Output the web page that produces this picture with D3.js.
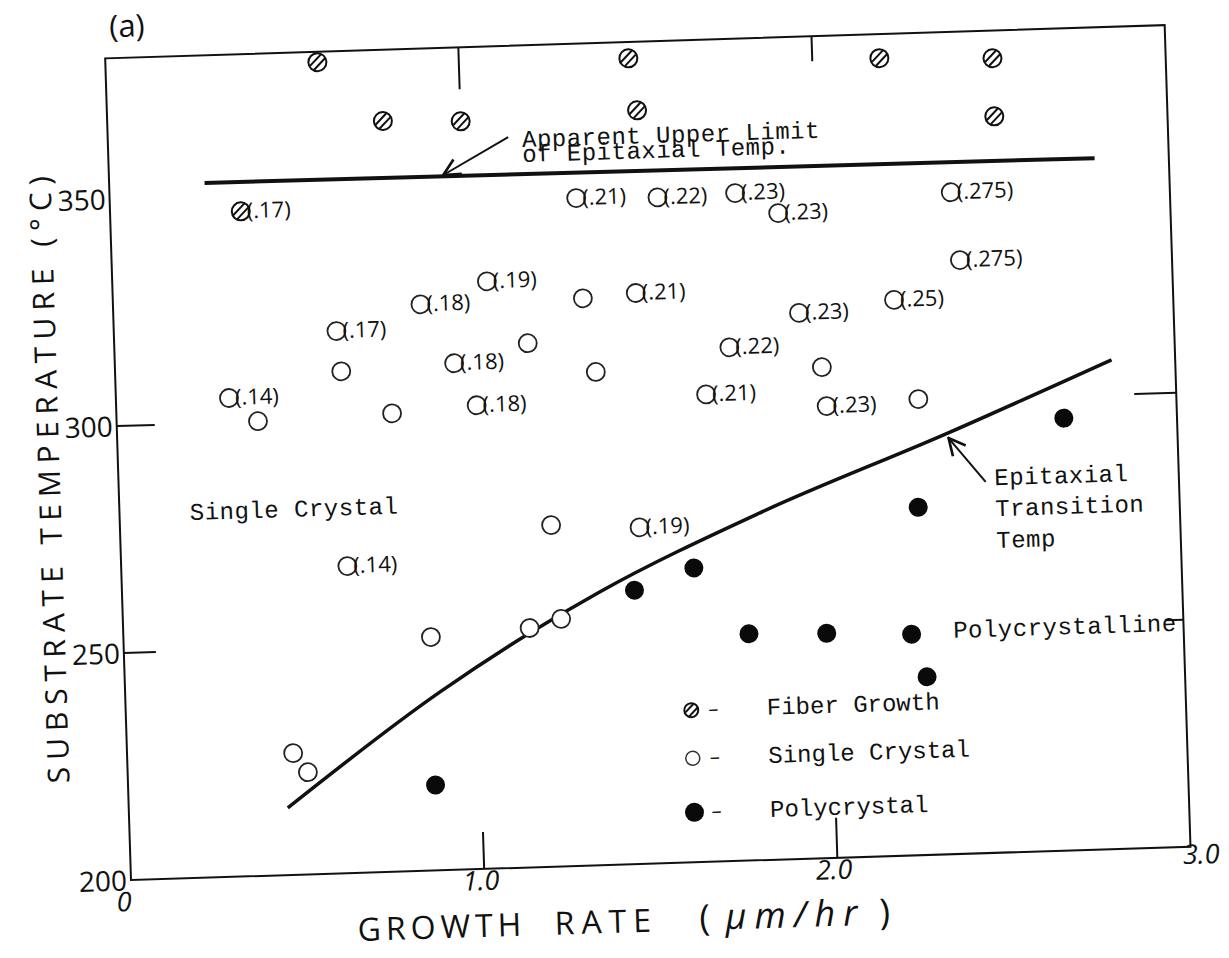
<!DOCTYPE html>
<html>
<head>
<meta charset="utf-8">
<script src="https://cdn.jsdelivr.net/npm/d3@7"></script>
<style>
  body { margin: 0; background: #fff; }
  .hand { font-family: "Open Sans", "DejaVu Sans", sans-serif; fill: #111; }
  .type { font-family: "Liberation Mono", "DejaVu Sans Mono", monospace; fill: #111; }
</style>
</head>
<body>
<div id="chart"></div>
<script>

// ---- data (growth rate um/hr, substrate temp C, film thickness label) ----

var xTickValues = [0, 1, 2, 3];
var xTickLabels = ["0", "1.0", "2.0", "3.0"];
var yTickValues = [200, 250, 300, 350];

var fiberGrowth = [
    [0.60, 378.7, ""], [1.48, 377.4, ""], [2.19, 375.7, ""], [2.51, 374.9, ""],
    [0.78, 365.3, ""], [1.00, 364.7, ""], [1.50, 365.9, ""], [2.51, 362.1, ""],
    [0.37, 346.4, "(.17)"]
];

var singleCrystal = [
    [1.32, 347.0, "(.21)"], [1.55, 346.6, "(.22)"], [1.77, 347.0, "(.23)"],
    [1.89, 342.3, "(.23)"], [2.38, 345.7, "(.275)"], [2.40, 330.7, "(.275)"],
    [2.21, 322.4, "(.25)"], [1.94, 320.2, "(.23)"], [1.74, 313.1, "(.22)"],
    [1.67, 302.9, "(.21)"], [2.01, 299.5, "(.23)"], [1.48, 325.7, "(.21)"],
    [1.06, 329.3, "(.19)"], [0.87, 324.7, "(.18)"], [0.96, 311.5, "(.18)"],
    [1.02, 302.1, "(.18)"], [0.63, 319.4, "(.17)"], [0.32, 305.4, "(.14)"],
    [0.64, 267.6, "(.14)"], [1.47, 274.1, "(.19)"],
    [1.33, 324.9, ""], [1.17, 315.4, ""], [1.36, 308.6, ""], [2.00, 308.1, ""],
    [2.27, 300.4, ""], [0.64, 310.5, ""], [0.78, 300.9, ""], [0.40, 300.1, ""],
    [1.22, 275.2, ""], [0.87, 251.4, ""], [1.15, 252.7, ""], [1.24, 254.5, ""],
    [0.47, 226.8, ""], [0.51, 222.5, ""]
];

var polycrystal = [
    [0.87, 218.8], [1.45, 260.3], [1.62, 264.8], [1.77, 249.9], [1.99, 249.5],
    [2.23, 248.7], [2.27, 239.2], [2.26, 276.6], [2.68, 295.2]
];

var transitionCurve = [
    [0.45, 214.8], [0.89, 239.2], [1.15, 251.6], [1.35, 260.1],
    [1.81, 276.4], [2.35, 292.7], [2.82, 307.7]
];

var upperLimit = [[0.27, 352.9], [2.79, 352.2]];

var legendItems = [
    ["fiber", "Fiber Growth", 233.5],
    ["single", "Single Crystal", 222.9],
    ["poly", "Polycrystal", 211.0]
];

// ---- layout ----

var width = 1229;
var height = 958;
var origin = [131, 880];
var tilt = -1.8;     // the scanned sheet sits slightly askew

var svg = d3.select("#chart")
    .append("svg")
    .attr("width", width)
    .attr("height", height);

var g = svg.append("g")
    .attr("transform", "rotate(" + tilt + "," + origin[0] + "," + origin[1] + ")");

var x = d3.scaleLinear().domain([0, 3]).range([131, 1191]);
var y = d3.scaleLinear().domain([200, 381]).range([880, 58]);

var defs = svg.append("defs");
defs.append("marker")
    .attr("id", "vhead")
    .attr("viewBox", "0 0 12 12")
    .attr("refX", 11)
    .attr("refY", 6)
    .attr("markerWidth", 20)
    .attr("markerHeight", 20)
    .attr("markerUnits", "userSpaceOnUse")
    .attr("orient", "auto")
    .append("path")
    .attr("d", "M1,1 L11,6 L1,11")
    .attr("fill", "none")
    .attr("stroke", "#111")
    .attr("stroke-width", 1.6);

// frame
g.append("rect")
    .attr("x", x(0))
    .attr("y", y(381))
    .attr("width", x(3) - x(0))
    .attr("height", y(200) - y(381))
    .attr("fill", "none")
    .attr("stroke", "#111")
    .attr("stroke-width", 2);

// inward ticks drawn by hand on the original
var innerTicks = [
    ["left", 250, 32], ["left", 300, 38],
    ["right", 300, 42], ["right", 250, 18],
    ["top", 1, 42], ["top", 2, 25],
    ["bottom", 1, 37], ["bottom", 2, 40]
];

g.selectAll(".itick")
    .data(innerTicks)
    .enter()
    .append("line")
    .attr("class", "itick")
    .attr("x1", function(d) {
        if (d[0] == "left") return x(0);
        if (d[0] == "right") return x(3);
        return x(d[1]);
    })
    .attr("x2", function(d) {
        if (d[0] == "left") return x(0) + d[2];
        if (d[0] == "right") return x(3) - d[2];
        return x(d[1]);
    })
    .attr("y1", function(d) {
        if (d[0] == "top") return y(381);
        if (d[0] == "bottom") return y(200);
        return y(d[1]);
    })
    .attr("y2", function(d) {
        if (d[0] == "top") return y(381) + d[2];
        if (d[0] == "bottom") return y(200) - d[2];
        return y(d[1]);
    })
    .attr("stroke", "#111")
    .attr("stroke-width", 2);

// tick labels
var yAxis = d3.axisLeft(y)
    .tickValues(yTickValues)
    .tickSize(0)
    .tickPadding(4)
    .tickFormat(d3.format("d"));

g.append("g")
    .attr("transform", "translate(" + x(0) + ",0)")
    .call(yAxis)
    .call(function(s) { s.select(".domain").remove(); })
    .selectAll("text")
    .attr("class", "hand")
    .style("font-size", "28px")
    .attr("dy", "0.35em");

var xAxis = d3.axisBottom(x)
    .tickValues(xTickValues)
    .tickSize(0)
    .tickPadding(8)
    .tickFormat(function(d, i) { return xTickLabels[i]; });

g.append("g")
    .attr("transform", "translate(0," + y(200) + ")")
    .call(xAxis)
    .call(function(s) { s.select(".domain").remove(); })
    .selectAll("text")
    .attr("class", "hand")
    .style("font-size", "27px")
    .style("font-style", "italic")
    .attr("dx", function(d) { return d == 0 ? -8 : (d == 3 ? 10 : -4); })
    .attr("y", function(d) { return d == 0 ? 12 : (d == 3 ? -2 : 2); });

// axis titles
g.append("text")
    .attr("class", "hand")
    .attr("transform", "translate(62,474)rotate(-90)")
    .attr("text-anchor", "middle")
    .attr("dy", "0.35em")
    .style("font-size", "30px")
    .style("letter-spacing", "7px")
    .text("SUBSTRATE TEMPERATURE (°C)");

var xTitle = [
    [356, "GROWTH", "normal", 32, 5],
    [553, "RATE", "normal", 32, 7],
    [698, "(", "normal", 36, 0],
    [724, "μm/hr", "italic", 36, 8],
    [878, ")", "normal", 36, 0]
];

g.selectAll(".xtitle")
    .data(xTitle)
    .enter()
    .append("text")
    .attr("class", "hand xtitle")
    .attr("x", function(d) { return d[0]; })
    .attr("y", 948)
    .style("font-style", function(d) { return d[2]; })
    .style("font-size", function(d) { return d[3] + "px"; })
    .style("letter-spacing", function(d) { return d[4] + "px"; })
    .text(function(d) { return d[1]; });

g.append("text")
    .attr("class", "hand")
    .attr("x", 136)
    .attr("y", 37)
    .style("font-size", "31px")
    .text("(a)");

// transition temperature curve and upper limit line
var line = d3.line()
    .x(function(d) { return x(d[0]); })
    .y(function(d) { return y(d[1]); })
    .curve(d3.curveMonotoneX);

g.append("path")
    .datum(transitionCurve)
    .attr("d", line)
    .attr("fill", "none")
    .attr("stroke", "#111")
    .attr("stroke-width", 3.5);

g.append("path")
    .datum(upperLimit)
    .attr("d", line)
    .attr("fill", "none")
    .attr("stroke", "#111")
    .attr("stroke-width", 4);

// markers
function hatched(sel, r) {
    sel.append("circle")
        .attr("r", r)
        .attr("fill", "#fff")
        .attr("stroke", "#111")
        .attr("stroke-width", 2);
    [-2.8, 2.8].forEach(function(o) {
        var h = Math.sqrt(r * r - o * o) - 0.5;
        var c = Math.SQRT1_2;
        sel.append("line")
            .attr("x1", o * c - h * c).attr("y1", o * c + h * c)
            .attr("x2", o * c + h * c).attr("y2", o * c - h * c)
            .attr("stroke", "#111")
            .attr("stroke-width", 2);
    });
}

var fg = g.selectAll(".fiber")
    .data(fiberGrowth)
    .enter()
    .append("g")
    .attr("class", "fiber")
    .attr("transform", function(d) { return "translate(" + x(d[0]) + "," + y(d[1]) + ")"; });
fg.each(function() { hatched(d3.select(this), 9); });

var sg = g.selectAll(".single")
    .data(singleCrystal)
    .enter()
    .append("g")
    .attr("class", "single")
    .attr("transform", function(d) { return "translate(" + x(d[0]) + "," + y(d[1]) + ")"; });
sg.append("circle")
    .attr("r", 9)
    .attr("fill", "#fff")
    .attr("stroke", "#222")
    .attr("stroke-width", 1.8);

g.selectAll(".poly")
    .data(polycrystal)
    .enter()
    .append("circle")
    .attr("class", "poly")
    .attr("cx", function(d) { return x(d[0]); })
    .attr("cy", function(d) { return y(d[1]); })
    .attr("r", 9.5)
    .attr("fill", "#0a0a0a");

// thickness labels next to points
[fg, sg].forEach(function(sel) {
    sel.filter(function(d) { return d[2]; })
        .append("text")
        .attr("class", "hand")
        .attr("x", 6)
        .attr("y", 7)
        .style("font-size", "22px")
        .text(function(d) { return d[2]; });
});

// annotations
var typeNotes = [
    [1.172, 358.6, "Apparent Upper Limit"],
    [1.171, 355.3, "of Epitaxial Temp."],
    [0.199, 278.8, "Single Crystal"],
    [2.348, 247.6, "Polycrystalline"],
    [2.478, 280.9, "Epitaxial"],
    [2.478, 274.1, "Transition"],
    [2.478, 267.1, "Temp"]
];

g.selectAll(".note")
    .data(typeNotes)
    .enter()
    .append("text")
    .attr("class", "type note")
    .attr("x", function(d) { return x(d[0]); })
    .attr("y", function(d) { return y(d[1]); })
    .style("font-size", "24px")
    .style("letter-spacing", "0.5px")
    .text(function(d) { return d[2]; });

var arrows = [
    [[1.133, 360.9], [0.946, 353.0]],
    [[2.453, 281.7], [2.352, 291.6]]
];

g.selectAll(".arrow")
    .data(arrows)
    .enter()
    .append("line")
    .attr("class", "arrow")
    .attr("x1", function(d) { return x(d[0][0]); })
    .attr("y1", function(d) { return y(d[0][1]); })
    .attr("x2", function(d) { return x(d[1][0]); })
    .attr("y2", function(d) { return y(d[1][1]); })
    .attr("stroke", "#111")
    .attr("stroke-width", 2)
    .attr("marker-end", "url(#vhead)");

// legend
var lg = g.selectAll(".legend")
    .data(legendItems)
    .enter()
    .append("g")
    .attr("class", "legend")
    .attr("transform", function(d) { return "translate(" + x(1.60) + "," + y(d[2]) + ")"; });

lg.each(function(d) {
    var s = d3.select(this);
    if (d[0] == "fiber") hatched(s, 7);
    else if (d[0] == "single") s.append("circle").attr("r", 7).attr("fill", "#fff").attr("stroke", "#333").attr("stroke-width", 1.5);
    else s.append("circle").attr("r", 9.5).attr("fill", "#0a0a0a");
});

lg.append("text")
    .attr("class", "hand")
    .attr("x", 17)
    .attr("y", 6)
    .style("font-size", "20px")
    .text("–");

lg.append("text")
    .attr("class", "type")
    .attr("x", x(1.814) - x(1.60))
    .attr("y", 7)
    .style("font-size", "24px")
    .text(function(d) { return d[1]; });

</script>
</body>
</html>
